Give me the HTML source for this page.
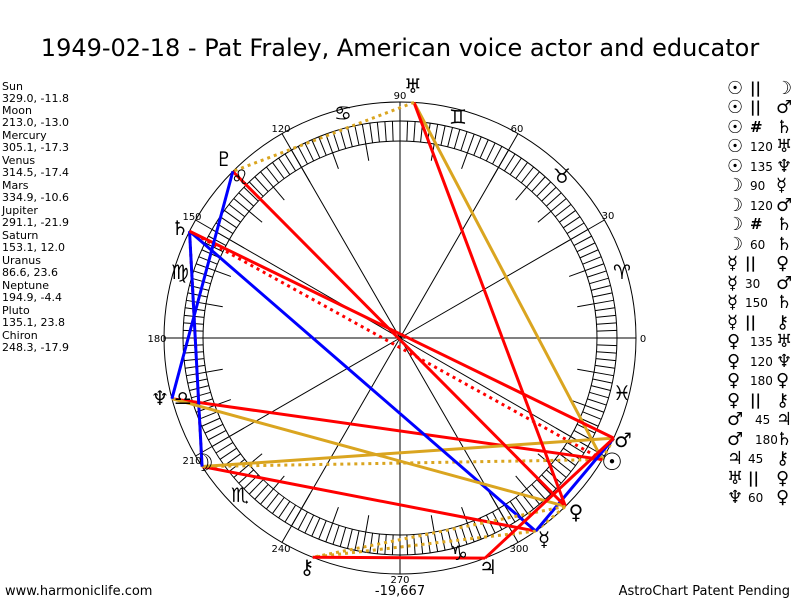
<!DOCTYPE html>
<html><head><meta charset="utf-8">
<style>
body{margin:0;background:#fff;}
svg{display:block;font-family:"DejaVu Sans","Liberation Sans",sans-serif;}
.g{font-family:"DejaVu Sans",sans-serif;}
</style></head>
<body>
<svg id="s" width="800" height="600" viewBox="0 0 800 600" xmlns="http://www.w3.org/2000/svg">
<rect width="800" height="600" fill="#fff"/>
<g id="geo"></g>
<text x="400" y="56" font-size="24" text-anchor="middle" fill="#000">1949-02-18 - Pat Fraley, American voice actor and educator</text>
<g font-size="11" fill="#000">
<text x="2" y="90">Sun</text><text x="2" y="102">329.0, -11.8</text>
<text x="2" y="114">Moon</text><text x="2" y="126">213.0, -13.0</text>
<text x="2" y="139">Mercury</text><text x="2" y="151">305.1, -17.3</text>
<text x="2" y="164">Venus</text><text x="2" y="176">314.5, -17.4</text>
<text x="2" y="189">Mars</text><text x="2" y="201">334.9, -10.6</text>
<text x="2" y="214">Jupiter</text><text x="2" y="226">291.1, -21.9</text>
<text x="2" y="239">Saturn</text><text x="2" y="251">153.1, 12.0</text>
<text x="2" y="264">Uranus</text><text x="2" y="276">86.6, 23.6</text>
<text x="2" y="289">Neptune</text><text x="2" y="301">194.9, -4.4</text>
<text x="2" y="314">Pluto</text><text x="2" y="326">135.1, 23.8</text>
<text x="2" y="339">Chiron</text><text x="2" y="351">248.3, -17.9</text>
</g>
<g font-size="10" fill="#000" text-anchor="middle">
<text x="400" y="99">90</text><text x="517" y="132">60</text><text x="608" y="219">30</text>
<text x="643" y="342">0</text><text x="281" y="132">120</text><text x="192" y="220">150</text>
<text x="157" y="342">180</text><text x="192" y="464">210</text><text x="281" y="552">240</text>
<text x="400" y="583">270</text><text x="519" y="552">300</text>
</g>
<g class="g" font-size="20" fill="#000" text-anchor="middle">
<text x="622" y="279">♈</text><text x="562" y="183">♉</text><text x="458" y="124">♊</text>
<text x="343" y="120">♋</text><text x="240" y="184">♌</text><text x="180" y="279">♍</text>
<text x="183" y="405">♎</text><text x="240" y="502">♏</text><text x="459" y="560">♑</text>
<text x="622" y="400">♓</text>
</g>
<g class="g" font-size="20" fill="#000" text-anchor="middle">
<text x="612" y="470" font-size="24">☉</text><text x="623" y="447">♂</text><text x="576" y="519">♀</text>
<text x="544" y="546">☿</text><text x="488" y="574">♃</text><text x="307" y="574">⚷</text>
<text x="203" y="471" font-size="24">☽</text><text x="160" y="405">♆</text><text x="180" y="235">♄</text>
<text x="224" y="166">♇</text><text x="413" y="93">♅</text>
</g>
<g font-size="13" fill="#000">
<text x="5" y="595">www.harmoniclife.com</text>
<text x="400" y="595" text-anchor="middle">-19,667</text>
<text x="790" y="595" text-anchor="end">AstroChart Patent Pending</text>
</g>
<g fill="#000">
<g class="g" font-size="18" font-weight="bold">
<text x="727" y="94">☉</text><text x="727" y="113">☉</text><text x="727" y="133">☉</text><text x="727" y="152">☉</text><text x="727" y="172">☉</text>
<text x="727" y="191">☽</text><text x="727" y="211">☽</text><text x="727" y="230">☽</text><text x="727" y="250">☽</text>
<text x="727" y="269">☿</text><text x="727" y="289">☿</text><text x="727" y="308">☿</text><text x="727" y="328">☿</text>
<text x="727" y="347">♀</text><text x="727" y="367">♀</text><text x="727" y="386">♀</text><text x="727" y="406">♀</text>
<text x="727" y="425">♂</text><text x="727" y="445">♂</text><text x="727" y="464">♃</text><text x="727" y="484">♅</text><text x="727" y="503">♆</text>
<text x="776" y="94">☽</text><text x="776" y="113">♂</text><text x="776" y="133">♄</text><text x="776" y="152">♅</text><text x="776" y="172">♆</text>
<text x="776" y="191">☿</text><text x="776" y="211">♂</text><text x="776" y="230">♄</text><text x="776" y="250">♄</text>
<text x="776" y="269">♀</text><text x="776" y="289">♂</text><text x="776" y="308">♄</text><text x="776" y="328">⚷</text>
<text x="776" y="347">♅</text><text x="776" y="367">♆</text><text x="776" y="386">♀</text><text x="776" y="406">⚷</text>
<text x="776" y="425">♃</text><text x="776" y="445">♄</text><text x="776" y="464">⚷</text><text x="776" y="484">♀</text><text x="776" y="503">♀</text>
</g>
<g font-size="12">
<text x="750" y="93" font-size="15" font-weight="bold">||</text><text x="750" y="112" font-size="15" font-weight="bold">||</text><text x="750" y="132" font-size="15" font-weight="bold">#</text>
<text x="750" y="151">120</text><text x="750" y="171">135</text><text x="750" y="190">90</text><text x="750" y="210">120</text>
<text x="750" y="229" font-size="15" font-weight="bold">#</text><text x="750" y="249">60</text><text x="745" y="268" font-size="15" font-weight="bold">||</text>
<text x="745" y="288">30</text><text x="745" y="307">150</text><text x="745" y="327" font-size="15" font-weight="bold">||</text>
<text x="750" y="346">135</text><text x="750" y="366">120</text><text x="750" y="385">180</text><text x="750" y="405" font-size="15" font-weight="bold">||</text>
<text x="755" y="424">45</text><text x="755" y="444">180</text><text x="748" y="463">45</text><text x="748" y="483" font-size="15" font-weight="bold">||</text><text x="748" y="502">60</text>
</g>
</g>
</svg>
<script>
(function(){
var g=document.getElementById('geo'),NS='http://www.w3.org/2000/svg',cx=400,cy=338;
function el(n,a){var e=document.createElementNS(NS,n);for(var k in a)e.setAttribute(k,a[k]);g.appendChild(e);return e;}
function P(a,r){var t=a*Math.PI/180;return [cx+r*Math.cos(t),cy-r*Math.sin(t)];}
el('circle',{cx:cx,cy:cy,r:236,fill:'none',stroke:'#000','stroke-width':1});
el('circle',{cx:cx,cy:cy,r:217,fill:'none',stroke:'#000','stroke-width':1});
el('circle',{cx:cx,cy:cy,r:197,fill:'none',stroke:'#000','stroke-width':1});
for(var a=0;a<360;a+=30){var p=P(a,236);el('line',{x1:cx,y1:cy,x2:p[0],y2:p[1],stroke:'#000','stroke-width':1});}
for(var a=0;a<360;a+=2){var r2=(a%10==0)?180:197;var p=P(a,217),q=P(a,r2);el('line',{x1:p[0],y1:p[1],x2:q[0],y2:q[1],stroke:'#000','stroke-width':1});}
var L={Su:329.0,Mo:213.0,Me:305.1,Ve:314.5,Ma:334.9,Ju:291.1,Sa:153.1,Ur:86.6,Ne:194.9,Pl:135.1,Ch:248.3};
var R='#ff0000',B='#0000ff',G='#daa520';
var A=[['Su','Mo',G,1],['Su','Ma',G,1],['Su','Sa',R,1],['Su','Ur',G,0],['Su','Ne',R,0],['Mo','Me',R,0],['Mo','Ma',G,0],['Mo','Sa',R,1],['Mo','Sa',B,0],
['Me','Ve',G,1],['Me','Ma',B,0],['Me','Sa',B,0],['Me','Ch',G,1],['Ve','Ur',R,0],['Ve','Ne',G,0],['Ve','Pl',R,0],['Ve','Ch',G,1],['Ma','Ju',R,0],['Ma','Sa',R,0],['Ju','Ch',R,0],['Ur','Pl',G,1],['Ne','Pl',B,0]];
A.forEach(function(x){var p=P(L[x[0]],236),q=P(L[x[1]],236);var o={x1:p[0],y1:p[1],x2:q[0],y2:q[1],stroke:x[2],'stroke-width':3};if(x[3])o['stroke-dasharray']='3,4';el('line',o);});
})();
</script>
</body></html>
